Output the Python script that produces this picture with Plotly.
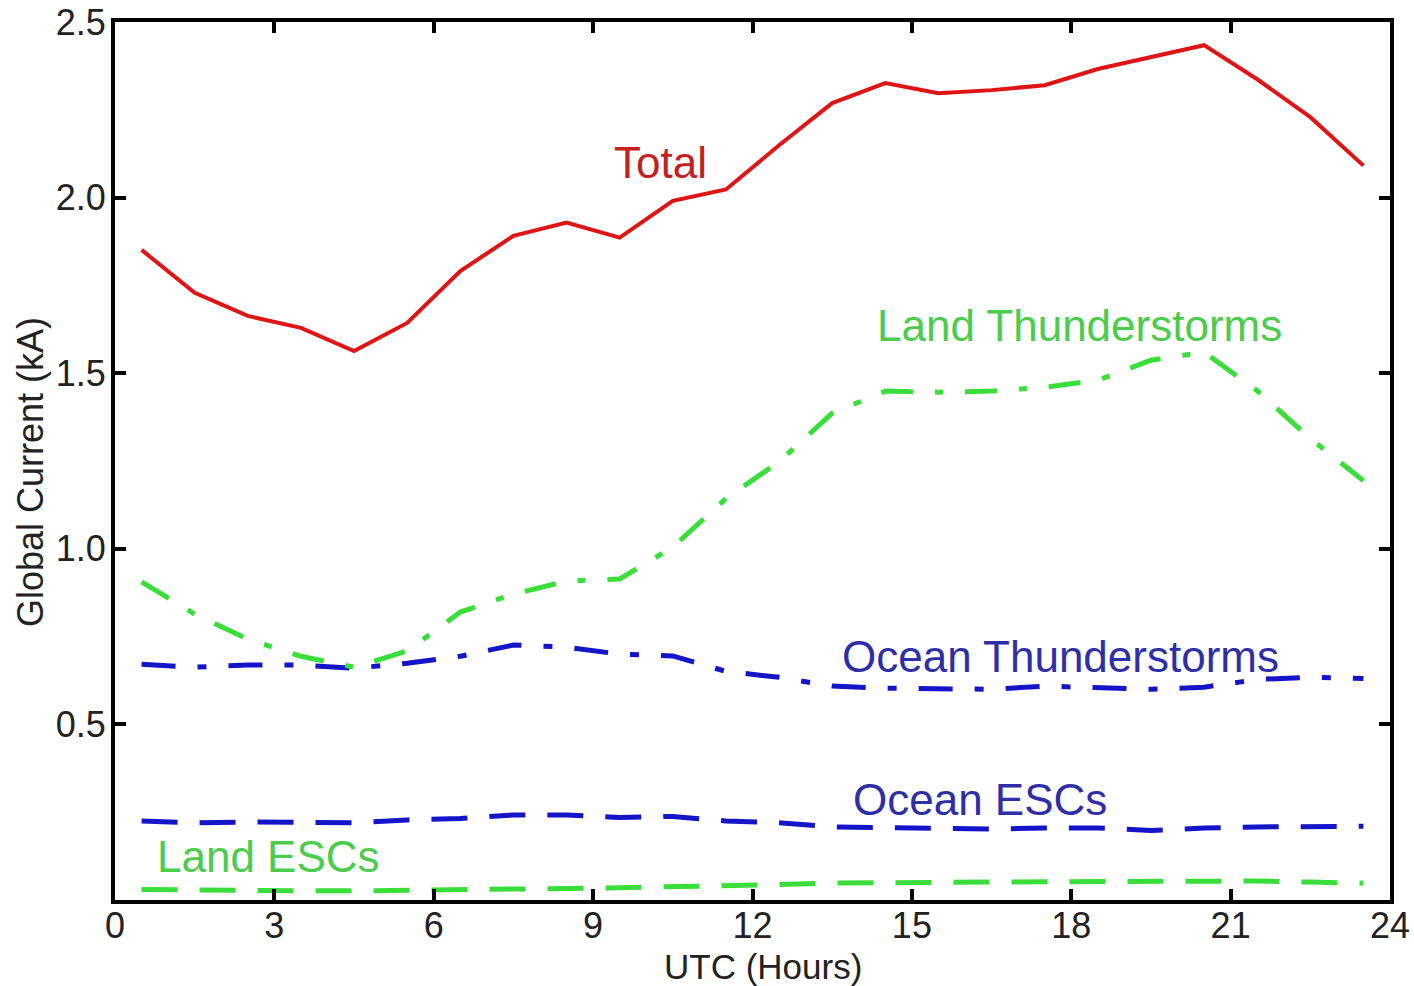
import plotly.graph_objects as go

hours = [h + 0.5 for h in range(24)]

total = [1.851, 1.729, 1.663, 1.629, 1.563, 1.643, 1.791, 1.891, 1.929, 1.886, 1.991, 2.023,
         2.149, 2.269, 2.326, 2.297, 2.306, 2.320, 2.366, 2.400, 2.434, 2.337, 2.229, 2.091]
land_ts = [0.906, 0.814, 0.743, 0.694, 0.663, 0.709, 0.820, 0.871, 0.908, 0.914, 1.005, 1.143,
           1.248, 1.386, 1.449, 1.446, 1.449, 1.460, 1.480, 1.537, 1.560, 1.450, 1.314, 1.194]
ocean_ts = [0.671, 0.663, 0.669, 0.669, 0.660, 0.674, 0.694, 0.726, 0.720, 0.700, 0.695, 0.651,
            0.634, 0.609, 0.603, 0.600, 0.600, 0.609, 0.606, 0.600, 0.606, 0.628, 0.634, 0.631]
ocean_esc = [0.225, 0.220, 0.222, 0.222, 0.220, 0.228, 0.232, 0.242, 0.242, 0.235, 0.238, 0.225,
             0.220, 0.208, 0.205, 0.202, 0.202, 0.205, 0.205, 0.198, 0.205, 0.208, 0.210, 0.210]
land_esc = [0.030, 0.028, 0.027, 0.026, 0.026, 0.027, 0.030, 0.032, 0.033, 0.035, 0.037, 0.040,
            0.044, 0.048, 0.050, 0.051, 0.051, 0.052, 0.053, 0.055, 0.056, 0.054, 0.051, 0.048]

x_ticks = [0, 3, 6, 9, 12, 15, 18, 21, 24]
y_ticks = [0.5, 1.0, 1.5, 2.0, 2.5]
y_ticktext = ["0.5", "1.0", "1.5", "2.0", "2.5"]

RED = "#e01414"
GREEN = "#3ade3a"
BLUE = "#1414c8"
TXT = "#222222"

FONT = "Liberation Sans, Arial, Helvetica, sans-serif"

fig = go.Figure()
fig.add_trace(go.Scatter(x=hours, y=land_esc, mode="lines",
                         line=dict(color=GREEN, width=5, dash="36px,22px")))
fig.add_trace(go.Scatter(x=hours, y=ocean_esc, mode="lines",
                         line=dict(color=BLUE, width=5, dash="36px,22px")))
fig.add_trace(go.Scatter(x=hours, y=ocean_ts, mode="lines",
                         line=dict(color=BLUE, width=5, dash="34px,22px,9px,22px")))
fig.add_trace(go.Scatter(x=hours, y=land_ts, mode="lines",
                         line=dict(color=GREEN, width=5, dash="32px,22px,8px,22px")))
fig.add_trace(go.Scatter(x=hours, y=total, mode="lines",
                         line=dict(color=RED, width=4)))

labels = [
    ("Total", 10.26, 2.10, "#c42020"),
    ("Land Thunderstorms", 18.16, 1.637, "#4ccc4c"),
    ("Ocean Thunderstorms", 17.79, 0.694, "#2e2ea8"),
    ("Ocean ESCs", 16.28, 0.286, "#2e2ea8"),
    ("Land ESCs", 2.88, 0.123, "#4ccc4c"),
]
for text, lx, ly, col in labels:
    fig.add_annotation(x=lx, y=ly, text=text, showarrow=False,
                       font=dict(family=FONT, size=44, color=col),
                       xanchor="center", yanchor="middle")

# axis titles
fig.add_annotation(xref="paper", yref="paper", x=0.5 + 10 / 1275, y=0, yshift=-66,
                   text="UTC (Hours)", showarrow=False, xanchor="center", yanchor="middle",
                   font=dict(family=FONT, size=35, color=TXT))
fig.add_annotation(xref="paper", yref="paper", x=0, y=0.5, xshift=-85, yshift=-11,
                   text="Global Current (kA)", showarrow=False, textangle=-90,
                   xanchor="center", yanchor="middle",
                   font=dict(family=FONT, size=36, color=TXT))

axis_common = dict(showline=True, linecolor="black", linewidth=4, mirror="allticks",
                   ticks="inside", ticklen=11, tickwidth=4, tickcolor="black",
                   showgrid=False, zeroline=False, automargin=False,
                   ticklabeloverflow="allow",
                   tickfont=dict(family=FONT, size=36, color=TXT))

fig.update_xaxes(range=[0, 24], tickvals=x_ticks, ticklabelstandoff=-9, **axis_common)
fig.update_yaxes(range=[0, 2.5], tickvals=y_ticks, ticktext=y_ticktext,
                 ticklabelstandoff=-2, **axis_common)

fig.update_layout(width=1414, height=986, showlegend=False, hovermode=False,
                  plot_bgcolor="white", paper_bgcolor="white",
                  margin=dict(l=115, r=24, t=22, b=86))

# remove the default 8px page margin so the figure fills the window exactly
fig.write_html("out.html", config={"displayModeBar": False, "staticPlot": True},
               post_script="document.body.style.margin='0';document.body.style.overflow='hidden';")
